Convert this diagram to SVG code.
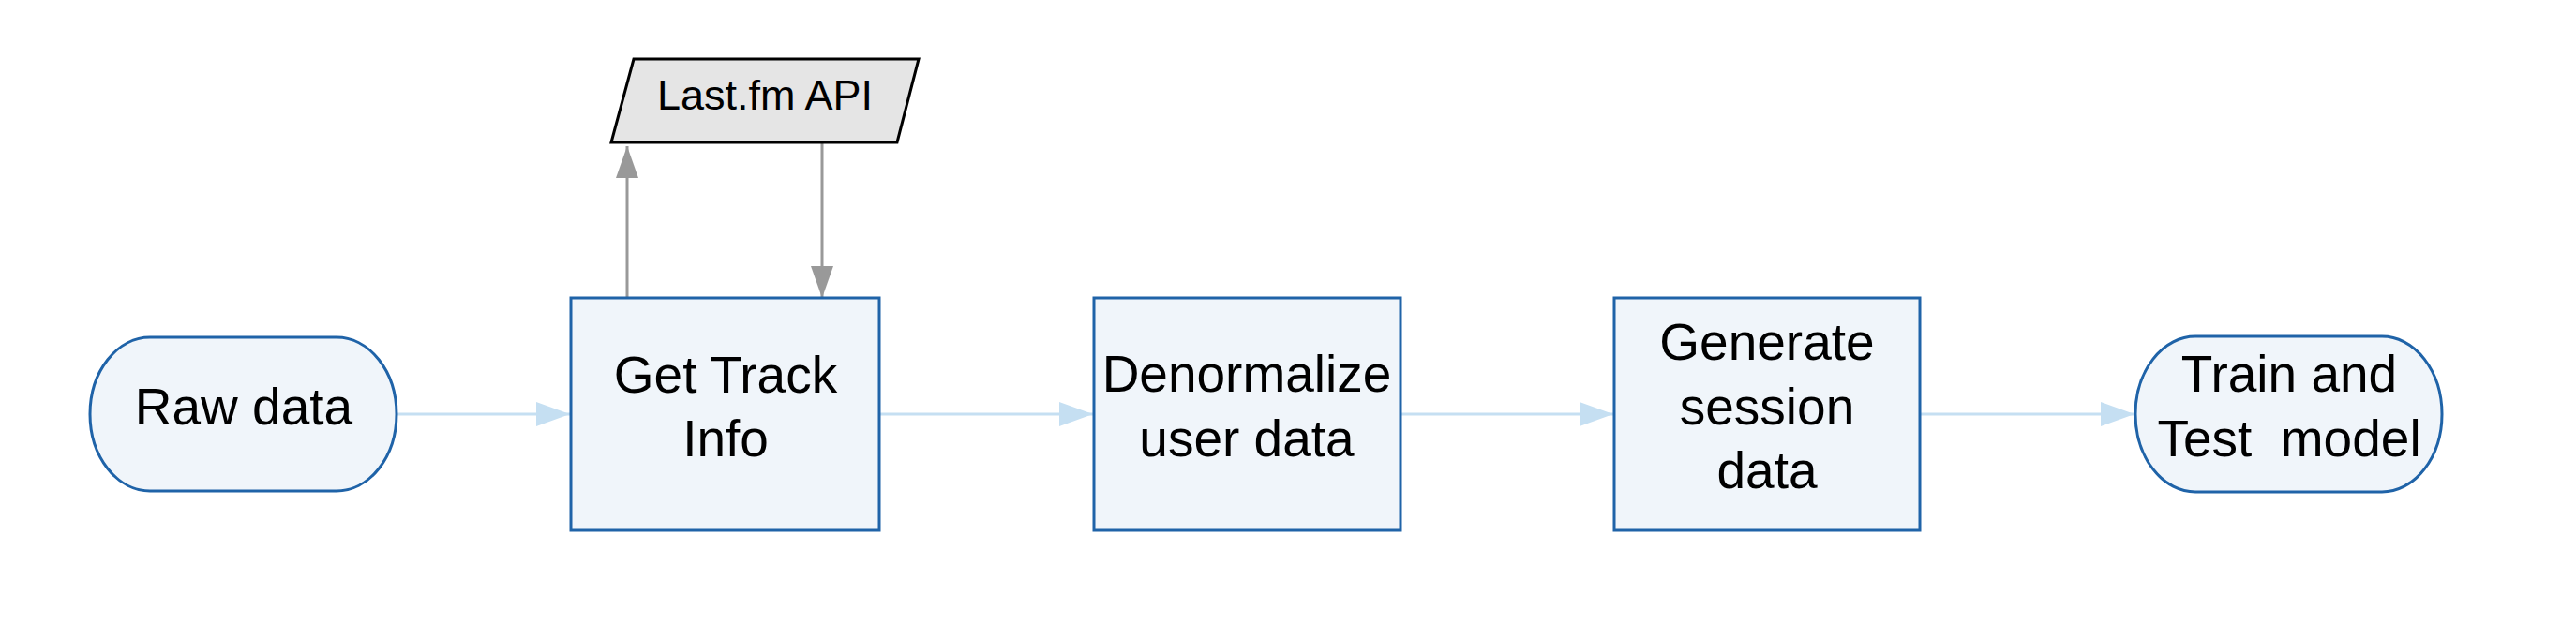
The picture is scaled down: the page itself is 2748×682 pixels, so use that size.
<svg xmlns="http://www.w3.org/2000/svg" width="2748" height="682" viewBox="0 0 2748 682">
<style>
.node{fill:#f0f5fa;stroke:#1f63a8;stroke-width:3}
.io{fill:#e5e5e5;stroke:#000;stroke-width:3;stroke-linejoin:miter}
.lbl{font-family:"Liberation Sans",Arial,sans-serif;font-size:55px;fill:#000;text-anchor:middle;white-space:pre}
.lbl2{font-family:"Liberation Sans",Arial,sans-serif;font-size:45px;fill:#000;text-anchor:middle}
.flow{stroke:#c5dff2;stroke-width:3;fill:none}
.api{stroke:#999;stroke-width:3;fill:none}
</style>
<defs>
<marker id="ab" markerUnits="userSpaceOnUse" markerWidth="38" markerHeight="28" refX="36" refY="13" orient="auto"><path d="M0,0 L36,13 L0,26 z" fill="#c5dff2"/></marker>
<marker id="ag" markerUnits="userSpaceOnUse" markerWidth="36" markerHeight="26" refX="34" refY="12" orient="auto"><path d="M0,0 L34,12 L0,24 z" fill="#999"/></marker>
</defs>
<rect width="2748" height="682" fill="#fff"/>
<g id="connectors">
<line class="flow" x1="423" y1="442" x2="608" y2="442" marker-end="url(#ab)"/>
<line class="flow" x1="938" y1="442" x2="1166" y2="442" marker-end="url(#ab)"/>
<line class="flow" x1="1494" y1="442" x2="1721" y2="442" marker-end="url(#ab)"/>
<line class="flow" x1="2048" y1="442" x2="2277" y2="442" marker-end="url(#ab)"/>
<line class="api" x1="669" y1="323" x2="669" y2="156" marker-end="url(#ag)"/>
<line class="api" x1="877" y1="152" x2="877" y2="318" marker-end="url(#ag)"/>
</g>
<g id="raw">
<rect class="node" x="96" y="360" width="327" height="164" rx="64" ry="82"/>
<text class="lbl" x="260" y="453">Raw data</text>
</g>
<g id="api">
<polygon class="io" points="676,63 980,63 957,152 652,152"/>
<text class="lbl2" x="816" y="117">Last.fm API</text>
</g>
<g id="track">
<rect class="node" x="609" y="318" width="329" height="248"/>
<text class="lbl" x="774" y="419">Get Track</text>
<text class="lbl" x="774" y="487">Info</text>
</g>
<g id="denorm">
<rect class="node" x="1167" y="318" width="327" height="248"/>
<text class="lbl" x="1330" y="418">Denormalize</text>
<text class="lbl" x="1330" y="487">user data</text>
</g>
<g id="session">
<rect class="node" x="1722" y="318" width="326" height="248"/>
<text class="lbl" x="1885" y="384">Generate</text>
<text class="lbl" x="1885" y="453">session</text>
<text class="lbl" x="1885" y="521">data</text>
</g>
<g id="train">
<rect class="node" x="2278" y="359" width="327" height="166" rx="64" ry="83"/>
<text class="lbl" x="2442" y="418">Train and</text>
<text class="lbl" x="2442" y="487" xml:space="preserve">Test  model</text>
</g>
</svg>
